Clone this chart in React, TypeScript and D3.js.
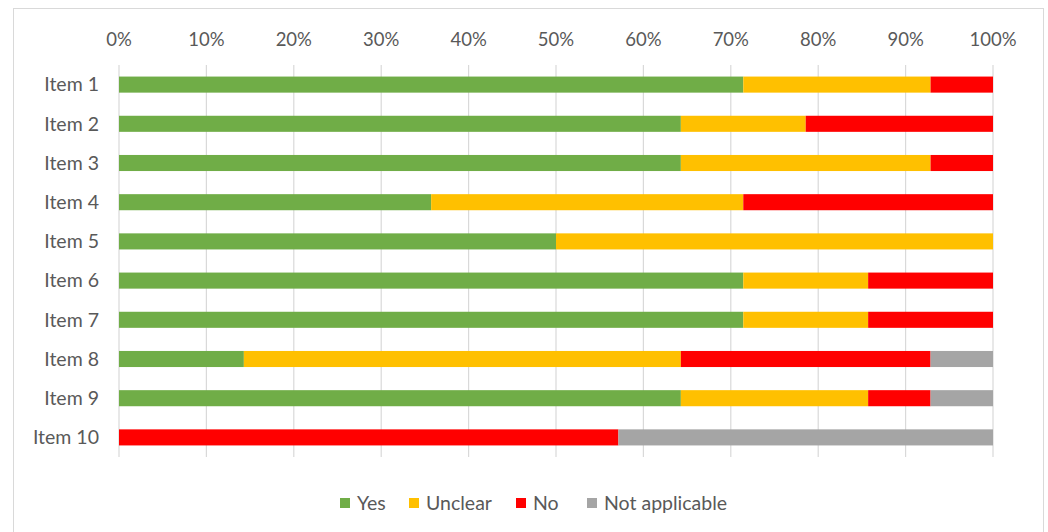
import React from "react";
import * as d3 from "d3";

const categories = ["Item 1", "Item 2", "Item 3", "Item 4", "Item 5", "Item 6", "Item 7", "Item 8", "Item 9", "Item 10"];
const seriesNames = ["Yes", "Unclear", "No", "Not applicable"];
const yes = [10, 9, 9, 5, 7, 10, 10, 2, 9, 0];
const unclear = [3, 2, 4, 5, 7, 2, 2, 7, 3, 0];
const no = [1, 3, 1, 4, 0, 2, 2, 4, 1, 8];
const notApplicable = [0, 0, 0, 0, 0, 0, 0, 1, 1, 6];
const tickValues = [0, 0.1, 0.2, 0.3, 0.4, 0.5, 0.6, 0.7, 0.8, 0.9, 1.0];
const colors = ["#70AD47", "#FFC000", "#FF0000", "#A5A5A5"];

const W = 1048;
const H = 532;
const FONT = "Lato, 'Open Sans', sans-serif";

export default function App() {
  const x = d3.scaleLinear().domain([0, 1]).range([119, 993]);
  const y = d3.scaleBand().domain(categories).range([65, 457]).paddingInner(0.59).paddingOuter(0.295);

  const rows = categories.map((c, i) => {
    const vals = [yes[i], unclear[i], no[i], notApplicable[i]];
    const total = d3.sum(vals);
    const r: any = { cat: c };
    seriesNames.forEach((s, j) => (r[s] = vals[j] / total));
    return r;
  });
  const stacked = d3.stack().keys(seriesNames)(rows);

  const legendX = [340, 409, 516, 587];

  return (
    <svg width={W} height={H} style={{ position: "absolute", left: 0, top: 0, fontFamily: FONT }}>
      <rect x={0} y={0} width={W} height={H} fill="#fff" />
      <rect x={13.5} y={8.5} width={1030} height={540} fill="#fff" stroke="#D9D9D9" strokeWidth={1} />
      {tickValues.map((t) => (
        <g key={t}>
          <line x1={x(t)} x2={x(t)} y1={65} y2={457} stroke="#D9D9D9" strokeWidth={1.2} />
          <text x={x(t)} y={40} dy="0.35em" textAnchor="middle" fontSize={18.5} fill="#595959">
            {d3.format(".0%")(t)}
          </text>
        </g>
      ))}
      {stacked.map((s, j) => (
        <g key={s.key} fill={colors[j]}>
          {s.map((d, i) =>
            d[1] - d[0] > 0 ? (
              <rect key={i} x={x(d[0])} y={y(categories[i])!} width={x(d[1]) - x(d[0])} height={y.bandwidth()} />
            ) : null
          )}
        </g>
      ))}
      {categories.map((c) => (
        <text key={c} x={99} y={y(c)! + y.bandwidth() / 2} dy="0.35em" textAnchor="end" fontSize={19.5} fill="#595959">
          {c}
        </text>
      ))}
      {seriesNames.map((s, j) => (
        <g key={s}>
          <rect x={legendX[j]} y={498} width={10} height={10} fill={colors[j]} />
          <text x={legendX[j] + 17} y={503} dy="0.35em" fontSize={19.5} fill="#595959">
            {s}
          </text>
        </g>
      ))}
    </svg>
  );
}
